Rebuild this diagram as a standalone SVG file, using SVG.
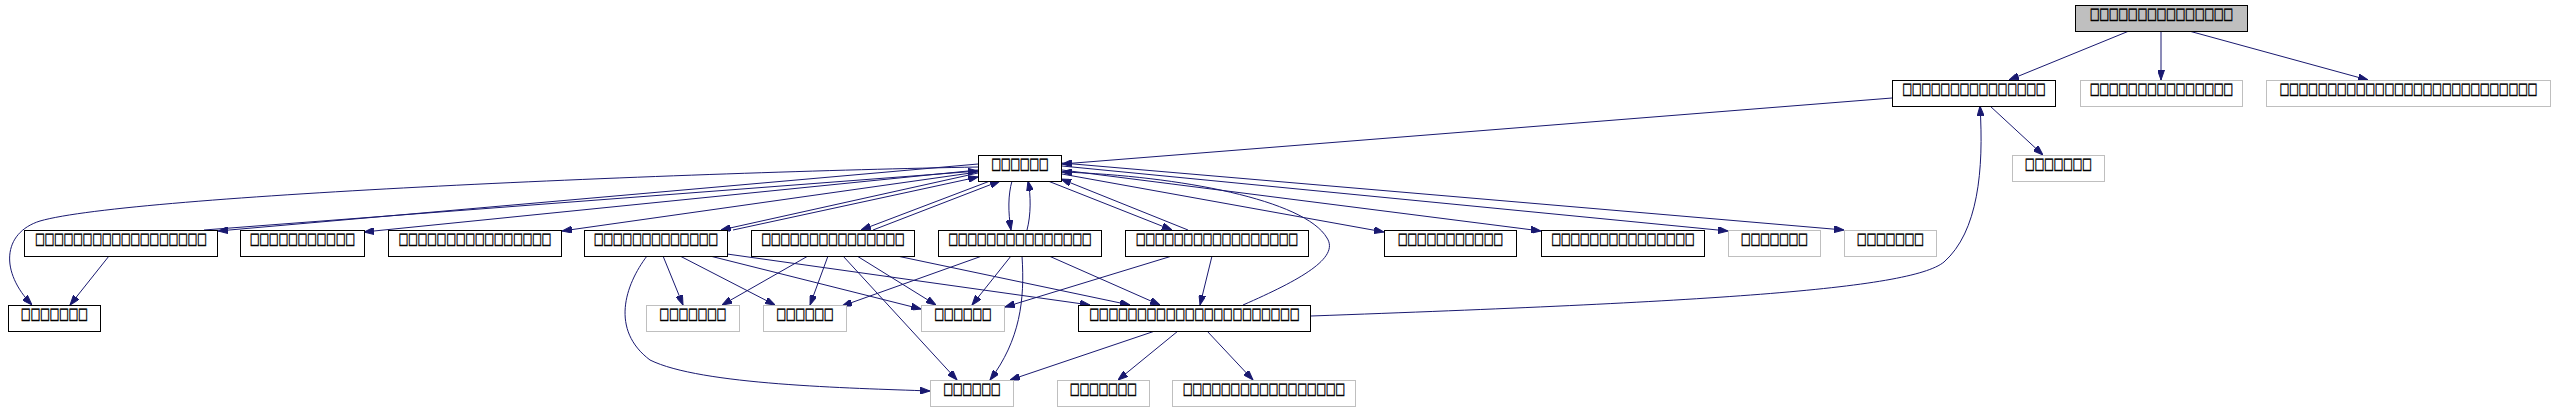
<svg xmlns="http://www.w3.org/2000/svg" width="2554" height="411" viewBox="0 0 2554 411">
<style>
.n rect{fill:#fff;stroke:#000;stroke-width:1}
.g rect{fill:#fff;stroke:#bfbfbf;stroke-width:1}
.r rect{fill:#bfbfbf;stroke:#000;stroke-width:1}
text{font-family:"DejaVu Sans",sans-serif;font-size:10.1px;text-anchor:middle;fill:#000;stroke:#000;stroke-width:0.35}
.e path{fill:none;stroke:#191970;stroke-width:1;marker-end:url(#ah)}
</style>
<defs>
<marker id="ah" viewBox="0 0 10 7" refX="10" refY="3.5" markerWidth="10" markerHeight="7" markerUnits="userSpaceOnUse" orient="auto"><path d="M0,0 L10,3.5 L0,7 z" fill="#191970" stroke="#191970" stroke-width="1"/></marker>
</defs>
<rect width="2554" height="411" fill="#fff"/>
<g id="edges" class="e">
<path d="M2129,31 L2009,80"/>
<path d="M2161,31 L2161,80"/>
<path d="M2189,31 L2368,80"/>
<path d="M1990,106 L2043,155"/>
<path d="M1892,98 L1062,164"/>
<path d="M1311,316 C1700,302 1910,290 1944,262 C1978,232 1984,170 1980,106"/>
<path d="M1243,305 C1300,280 1340,258 1327,238 C1305,200 1180,176 1062,172"/>
<path d="M1062,174 L1384,232"/>
<path d="M1062,170 L1541,231"/>
<path d="M1062,166 L1728,231"/>
<path d="M1062,163 L1844,230"/>
<path d="M1048,181 L1172,230"/>
<path d="M1188,230 L1061,179"/>
<path d="M1012,181 C1008,195 1008,212 1011,230"/>
<path d="M1027,230 C1031,215 1031,195 1028,181"/>
<path d="M990,181 L861,230"/>
<path d="M873,230 L1000,181"/>
<path d="M978,173 L721,230"/>
<path d="M733,230 L978,177"/>
<path d="M978,164 L218,231"/>
<path d="M204,230 L978,171"/>
<path d="M978,170 L364,232"/>
<path d="M978,172 L562,231"/>
<path d="M978,167 C700,172 130,195 40,221 C2,233 0,272 32,305"/>
<path d="M109,256 L70,305"/>
<path d="M647,256 C625,285 610,330 650,360 C700,385 850,388 930,391"/>
<path d="M663,256 L683,305"/>
<path d="M680,256 L775,305"/>
<path d="M710,256 L921,309"/>
<path d="M727,254 L1090,305"/>
<path d="M808,256 L722,305"/>
<path d="M828,256 L810,305"/>
<path d="M857,256 L936,305"/>
<path d="M843,256 L957,380"/>
<path d="M897,256 L1130,305"/>
<path d="M982,256 L842,306"/>
<path d="M1011,256 L972,305"/>
<path d="M1022,256 C1025,300 1020,340 990,380"/>
<path d="M1049,256 L1160,305"/>
<path d="M1172,256 L1005,307"/>
<path d="M1212,256 L1200,305"/>
<path d="M1155,331 L1010,380"/>
<path d="M1178,331 L1118,380"/>
<path d="M1207,331 L1253,380"/>
</g>
<g id="nA" class="r"><rect x="2075.5" y="5.5" width="172" height="26"/><text transform="translate(2161.5,19.3) scale(1,1.6)">□□□□□□□□□□□□□□□</text></g>
<g id="nB" class="n"><rect x="1892.5" y="80.5" width="163" height="26"/><text transform="translate(1974,94.3) scale(1,1.6)">□□□□□□□□□□□□□□□</text></g>
<g id="nX2" class="g"><rect x="2080.5" y="80.5" width="162" height="26"/><text transform="translate(2161.5,94.3) scale(1,1.6)">□□□□□□□□□□□□□□□</text></g>
<g id="nX3" class="g"><rect x="2266.5" y="80.5" width="284" height="26"/><text transform="translate(2408.5,94.3) scale(1,1.6)">□□□□□□□□□□□□□□□□□□□□□□□□□□□</text></g>
<g id="nC" class="n"><rect x="978.5" y="155.5" width="83" height="26"/><text transform="translate(1020,169.3) scale(1,1.6)">□□□□□□</text></g>
<g id="nD" class="g"><rect x="2012.5" y="155.5" width="92" height="26"/><text transform="translate(2058.5,169.3) scale(1,1.6)">□□□□□□□</text></g>
<g id="nE" class="n"><rect x="24.5" y="230.5" width="193" height="26"/><text transform="translate(121,244.3) scale(1,1.6)">□□□□□□□□□□□□□□□□□□</text></g>
<g id="nF" class="n"><rect x="240.5" y="230.5" width="124" height="26"/><text transform="translate(302.5,244.3) scale(1,1.6)">□□□□□□□□□□□</text></g>
<g id="nG" class="n"><rect x="388.5" y="230.5" width="173" height="26"/><text transform="translate(475,244.3) scale(1,1.6)">□□□□□□□□□□□□□□□□</text></g>
<g id="nH" class="n"><rect x="584.5" y="230.5" width="143" height="26"/><text transform="translate(656,244.3) scale(1,1.6)">□□□□□□□□□□□□□</text></g>
<g id="nI" class="n"><rect x="751.5" y="230.5" width="163" height="26"/><text transform="translate(833,244.3) scale(1,1.6)">□□□□□□□□□□□□□□□</text></g>
<g id="nJ" class="n"><rect x="938.5" y="230.5" width="163" height="26"/><text transform="translate(1020,244.3) scale(1,1.6)">□□□□□□□□□□□□□□□</text></g>
<g id="nK" class="n"><rect x="1125.5" y="230.5" width="183" height="26"/><text transform="translate(1217,244.3) scale(1,1.6)">□□□□□□□□□□□□□□□□□</text></g>
<g id="nL" class="n"><rect x="1384.5" y="230.5" width="132" height="26"/><text transform="translate(1450.5,244.3) scale(1,1.6)">□□□□□□□□□□□</text></g>
<g id="nM" class="n"><rect x="1541.5" y="230.5" width="163" height="26"/><text transform="translate(1623,244.3) scale(1,1.6)">□□□□□□□□□□□□□□□</text></g>
<g id="nN" class="g"><rect x="1728.5" y="230.5" width="92" height="26"/><text transform="translate(1774.5,244.3) scale(1,1.6)">□□□□□□□</text></g>
<g id="nO" class="g"><rect x="1844.5" y="230.5" width="92" height="26"/><text transform="translate(1890.5,244.3) scale(1,1.6)">□□□□□□□</text></g>
<g id="nP" class="n"><rect x="8.5" y="305.5" width="92" height="26"/><text transform="translate(54.5,319.3) scale(1,1.6)">□□□□□□□</text></g>
<g id="nQ" class="g"><rect x="646.5" y="305.5" width="93" height="26"/><text transform="translate(693,319.3) scale(1,1.6)">□□□□□□□</text></g>
<g id="nR" class="g"><rect x="763.5" y="305.5" width="83" height="26"/><text transform="translate(805,319.3) scale(1,1.6)">□□□□□□</text></g>
<g id="nS" class="g"><rect x="921.5" y="305.5" width="83" height="26"/><text transform="translate(963,319.3) scale(1,1.6)">□□□□□□</text></g>
<g id="nT" class="n"><rect x="1078.5" y="305.5" width="232" height="26"/><text transform="translate(1194.5,319.3) scale(1,1.6)">□□□□□□□□□□□□□□□□□□□□□□</text></g>
<g id="nU" class="g"><rect x="930.5" y="380.5" width="83" height="26"/><text transform="translate(972,394.3) scale(1,1.6)">□□□□□□</text></g>
<g id="nV" class="g"><rect x="1057.5" y="380.5" width="92" height="26"/><text transform="translate(1103.5,394.3) scale(1,1.6)">□□□□□□□</text></g>
<g id="nW" class="g"><rect x="1172.5" y="380.5" width="183" height="26"/><text transform="translate(1264,394.3) scale(1,1.6)">□□□□□□□□□□□□□□□□□</text></g>
</svg>
